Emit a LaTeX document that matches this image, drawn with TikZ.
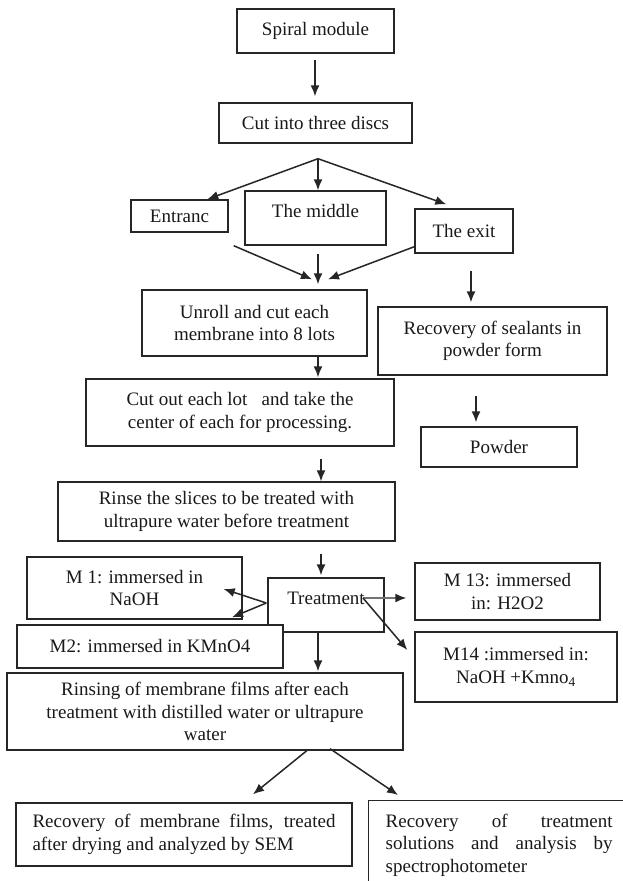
\documentclass[tikz,border=0pt]{standalone}
\usepackage{fontspec}
\setmainfont{Liberation Serif}
\usetikzlibrary{arrows.meta,calc}
\begin{document}
\begin{tikzpicture}[x=1pt,y=-1pt,
  box/.style={draw=black!85, line width=1.4pt, inner sep=0pt, align=center,
    font={\fontsize{19}{22.5}\selectfont}, text=black!90},
  arr/.style={-{Latex[length=11pt,width=9pt]}, line width=1.5pt, draw=black!85},
  grayarr/.style={-{Latex[length=11pt,width=9pt,color=black!85]}, line width=1.5pt, draw=black!55}]
\fill[white] (0,0) rectangle (622,881);
\useasboundingbox (0,0) rectangle (622,881);

\node[box, minimum width=157, minimum height=44] (spiral) at (315.5,31) {Spiral module};
\node[box, minimum width=193, minimum height=40] (cut) at (315.5,123) {Cut into three discs};
\node[box, minimum width=97, minimum height=32] (entr) at (179.5,216) {Entranc};
\node[box, minimum width=141, minimum height=54, text depth=14pt] (middle) at (315.5,218) {The middle};
\node[box, minimum width=98, minimum height=44] (exit) at (464,231) {The exit};
\node[box, minimum width=225, minimum height=66] (unroll) at (254.5,323) {Unroll and cut each\\membrane into 8 lots};
\node[box, minimum width=229, minimum height=68] (seal) at (492.5,341) {Recovery of sealants in\\powder form};
\node[box, minimum width=308, minimum height=67] (cutout) at (240,412.5) {Cut out each lot\ \ \ and take the\\center of each for processing.};
\node[box, minimum width=156, minimum height=40] (powder) at (499,447) {Powder};
\node[box, minimum width=337, minimum height=59] (rinse) at (226.5,511.5) {Rinse the slices to be treated with\\ultrapure water before treatment};
\node[box, minimum width=215, minimum height=62] (m1) at (134.5,588) {M 1: immersed in\\NaOH};
\node[box, minimum width=116, minimum height=54, text depth=14pt] (treat) at (326,605) {Treatment};
\node[box, minimum width=266, minimum height=43, fill=white] (m2) at (150,646.5) {M2: immersed in KMnO4};
\node[box, minimum width=185, minimum height=57] (m13) at (507.5,591.5) {M 13: immersed\\in: H2O2};
\node[box, minimum width=202, minimum height=70] (m14) at (516,667) {M14 :immersed in:\\NaOH +Kmno\textsubscript{4}};
\node[box, minimum width=396, minimum height=77] (rinsing) at (205,711.5) {Rinsing of membrane films after each\\treatment with distilled water or ultrapure\\water};
\node[box, minimum width=336, minimum height=63, text width=303pt, align=justify] (recm) at (184,834.5) {Recovery of membrane films, treated\linebreak after drying and analyzed by SEM};
\node[box, anchor=north west, text width=227pt, align=justify, inner xsep=17pt, inner ysep=13pt] (rect) at (368,800) {Recovery of treatment\linebreak solutions and analysis by\linebreak spectrophotometer\\\rule{0pt}{20pt}};

% connectors
\draw[arr] ($(spiral.south)+(-0.5,6)$) -- ($(cut.north)+(-0.5,-6)$);
\coordinate (br) at ($(cut.south)+(2.5,15)$);
\draw[arr] (br) -- ($(entr.north west)+(77,0)$);
\draw[arr] (br) -- (br |- middle.north);
\draw[arr] (br) -- ($(exit.north west)+(32,-4)$);
\draw[arr] ($(entr.south east)+(5,13)$) -- ($(unroll.north)+(57.5,-10)$);
\draw[arr] ($(middle.south)+(2.5,8)$) -- ($(unroll.north)+(63.5,-5)$);
\draw[arr] ($(exit.south west)+(0,-7)$) -- ($(unroll.north)+(73.5,-10)$);
\draw[arr] ($(exit.south)+(7,17)$) -- ($(seal.north)+(-21.5,-4)$);
\draw[arr] ($(unroll.south)+(63.5,0)$) -- ($(cutout.north)+(78,-1)$);
\draw[arr] ($(seal.south)+(-16.5,20)$) -- ($(powder.north)+(-23,-4)$);
\draw[arr] ($(cutout.south)+(81,12)$) -- ($(rinse.north)+(94.5,0)$);
\draw[arr] ($(rinse.south)+(94.5,12)$) -- ($(treat.north)+(-5,-2)$);
\coordinate (tl) at ($(treat.west)+(-1,-2)$);
\draw[arr] (tl) -- ($(m1.east)+(-19,1)$);
\draw[arr] (tl) -- ($(m2.north)+(82,-7)$);
\coordinate (tr) at ($(treat.center)+(37,-7)$);
\draw[grayarr] (tr) -- ($(m13.west)+(-8,6.5)$);
\draw[arr] (tr) -- ($(m14.west)+(-7,-17)$);
\draw[arr] ($(treat.south)+(-8,0)$) -- ($(rinsing.north)+(113,-1)$);
\draw[arr] ($(rinsing.south)+(103,-1)$) -- ($(recm.north)+(69,-8)$);
\draw[arr] ($(rinsing.south)+(125,-2)$) -- ($(rect.north west)+(30,-5)$);
\end{tikzpicture}
\end{document}
